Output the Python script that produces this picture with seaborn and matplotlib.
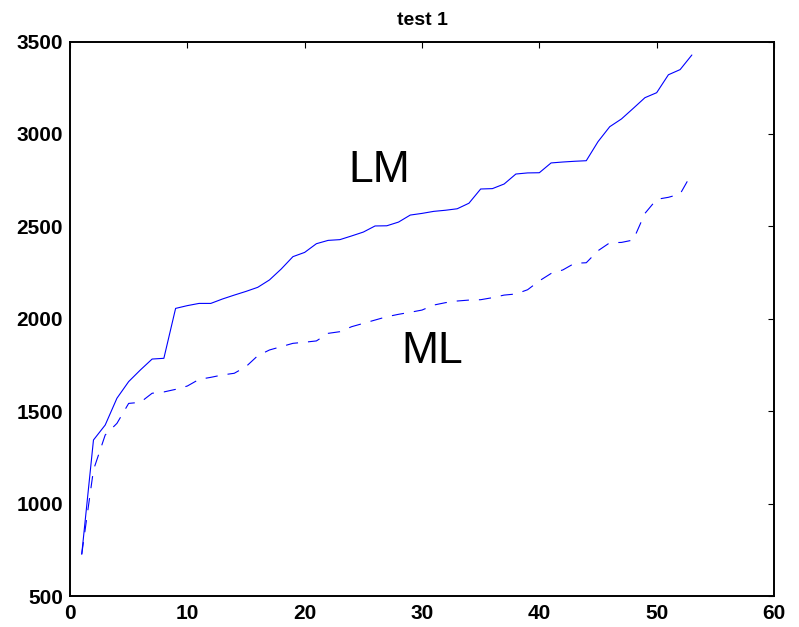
import matplotlib
matplotlib.use("Agg")
import matplotlib.pyplot as plt
import seaborn as sns
import pandas as pd

# ---- data ----
runs = list(range(1, 54))
lm_values = [726, 1344, 1425, 1570, 1660, 1723, 1782, 1786, 2056, 2071,
             2083, 2083, 2107, 2128, 2148, 2170, 2210, 2269, 2336, 2359,
             2406, 2424, 2428, 2448, 2469, 2502, 2503, 2523, 2561, 2570,
             2581, 2587, 2595, 2625, 2702, 2704, 2729, 2783, 2789, 2790,
             2843, 2848, 2852, 2855, 2958, 3039, 3081, 3138, 3196, 3223,
             3320, 3348, 3427]
ml_values = [726, 1182, 1371, 1434, 1542, 1548, 1597, 1604, 1618, 1636,
             1672, 1683, 1696, 1705, 1741, 1800, 1831, 1849, 1867, 1873,
             1880, 1921, 1930, 1957, 1975, 1993, 2011, 2024, 2035, 2047,
             2074, 2087, 2096, 2101, 2103, 2114, 2128, 2134, 2157, 2205,
             2245, 2264, 2300, 2303, 2368, 2411, 2413, 2426, 2570, 2646,
             2657, 2675, 2787]
title_text = "test 1"
label_lm = "LM"
label_ml = "ML"
x_ticks = [0, 10, 20, 30, 40, 50, 60]
y_ticks = [500, 1000, 1500, 2000, 2500, 3000, 3500]

df = pd.DataFrame({"run": runs, "LM": lm_values, "ML": ml_values})

sns.set_style("white")
plt.rcParams["font.family"] = ["Liberation Sans", "DejaVu Sans"]
plt.rcParams["text.color"] = "black"

fig = plt.figure(figsize=(7.99, 6.27), dpi=100)
ax = fig.add_axes([70 / 799, 31 / 627, 704 / 799, 554.5 / 627])

sns.lineplot(data=df, x="run", y="LM", ax=ax, color="#0000ff", lw=0.8)
sns.lineplot(data=df, x="run", y="ML", ax=ax, color="#0000ff", lw=0.8,
             linestyle=(0, (11, 9)))

ax.set_xlim(0, 60)
ax.set_ylim(500, 3500)
ax.set_xticks(x_ticks)
ax.set_yticks(y_ticks)
ax.set_xlabel("")
ax.set_ylabel("")

for sp in ax.spines.values():
    sp.set_visible(True)
    sp.set_color("black")
    sp.set_linewidth(1.4)

ax.tick_params(axis="both", direction="in", length=4.3, width=0.8,
               color="black", top=True, right=True,
               labelsize=15, labelcolor="black")
ax.tick_params(axis="x", pad=5.5)
ax.tick_params(axis="y", pad=5)
for lab in ax.get_xticklabels() + ax.get_yticklabels():
    lab.set_fontweight("bold")

ax.set_title(title_text, fontsize=14, fontweight="bold", pad=12,
             color="black")

ax.text(23.75, 2741, label_lm, fontsize=32, ha="left", va="baseline",
        color="black")
ax.text(28.27, 1762, label_ml, fontsize=32, ha="left", va="baseline",
        color="black")

fig.savefig("out.png", dpi=100)
